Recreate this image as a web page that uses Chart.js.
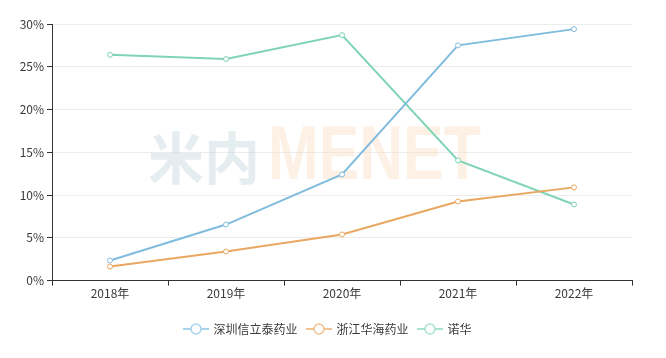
<!DOCTYPE html>
<html><head><meta charset="utf-8">
<script src="https://cdn.jsdelivr.net/npm/chart.js@4/dist/chart.umd.min.js"></script>
<style>html,body{margin:0;padding:0;background:#fff}#wrap{width:666px;height:358px}</style>
</head><body><div id="wrap"><canvas id="c"></canvas></div>
<script>
const categories = ['2018年','2019年','2020年','2021年','2022年'];
const seriesNames = ['深圳信立泰药业','浙江华海药业','诺华'];
const xinlitai = [2.35, 6.55, 12.4, 27.5, 29.4];
const huahai = [1.65, 3.4, 5.4, 9.25, 10.9];
const novartis = [26.4, 25.9, 28.7, 14.05, 8.9];
const yTicks = [0, 5, 10, 15, 20, 25, 30];
const colors = ['#7fbcdd', '#e9a761', '#7fd4b5'];
const legendColors = ['#a9d3ea', '#f1c393', '#a9e2ce'];
const textColor = '#3a3a3a';

function legendIcon(col){
  const cv = document.createElement('canvas');
  cv.width = 26; cv.height = 14;
  const g = cv.getContext('2d');
  g.strokeStyle = col; g.lineWidth = 2;
  g.beginPath(); g.moveTo(0,7); g.lineTo(26,7); g.stroke();
  g.fillStyle = '#fff'; g.lineWidth = 1.6;
  g.beginPath(); g.arc(13,7,5,0,Math.PI*2); g.fill(); g.stroke();
  return cv;
}
const icons = legendColors.map(legendIcon);

const watermark = {
  id:'wm',
  afterLayout(chart){
    if (chart.legend){ chart.legend.left += 12; chart.legend.right += 12; }
  },
  beforeDatasetsDraw(chart){
    const {ctx} = chart;
    ctx.save();
    ctx.textBaseline = 'middle';
    ctx.font = 'bold 56px "Noto Sans CJK SC"';
    ctx.fillStyle = 'rgba(200,215,225,0.45)';
    ctx.fillText('米内', 148, 158);
    ctx.translate(268, 158);
    ctx.scale(0.8, 1);
    ctx.font = 'bold 76px "Liberation Sans"';
    ctx.fillStyle = 'rgba(250,225,200,0.45)';
    ctx.fillText('MENET', 0, 0);
    ctx.restore();
  }
};

new Chart(document.getElementById('c'), {
  type:'line',
  data:{
    labels: categories,
    datasets: [xinlitai, huahai, novartis].map((d,i)=>({
      label: seriesNames[i],
      data: d,
      borderColor: colors[i],
      backgroundColor: '#fff',
      borderWidth: 2,
      pointRadius: 2.5,
      pointBorderWidth: 1,
      pointBackgroundColor: '#fff',
      pointBorderColor: colors[i],
      tension: 0
    }))
  },
  options:{
    responsive:true, maintainAspectRatio:false, animation:false,
    layout:{padding:{left:0,right:34,top:24,bottom:13}},
    plugins:{
      tooltip:{enabled:false},
      legend:{
        position:'bottom',
        labels:{
          usePointStyle:true,
          pointStyleWidth:23,
          font:{family:'"Noto Sans CJK SC"', size:12},
          color:textColor,
          padding:10,
          generateLabels(chart){
            return chart.data.datasets.map((ds,i)=>({
              text: ds.label, pointStyle: icons[i], fontColor:textColor,
              strokeStyle: legendColors[i], fillStyle:'#fff', lineWidth:0, datasetIndex:i, hidden:false
            }));
          }
        }
      }
    },
    scales:{
      x:{
        offset:true,
        afterFit(s){ s.height += 11; },
        grid:{display:true, drawOnChartArea:false, drawTicks:true, tickLength:5, tickColor:'#333', offset:true},
        border:{display:true, color:'#333', width:1},
        ticks:{color:textColor, font:{family:'"Noto Sans CJK SC"', size:12}, padding:1, maxRotation:0}
      },
      y:{
        min:0, max:30,
        afterFit(s){ s.width = 52; },
        afterBuildTicks(s){ s.ticks = yTicks.map(v=>({value:v})); },
        grid:{color:'#ececec', tickColor:'#333', tickLength:5, drawTicks:true},
        border:{display:true, color:'#333', width:1},
        ticks:{color:textColor, font:{family:'"Noto Sans CJK SC"', size:12}, padding:3, callback:v=>v+'%'}
      }
    }
  },
  plugins:[watermark]
});
</script></body></html>
